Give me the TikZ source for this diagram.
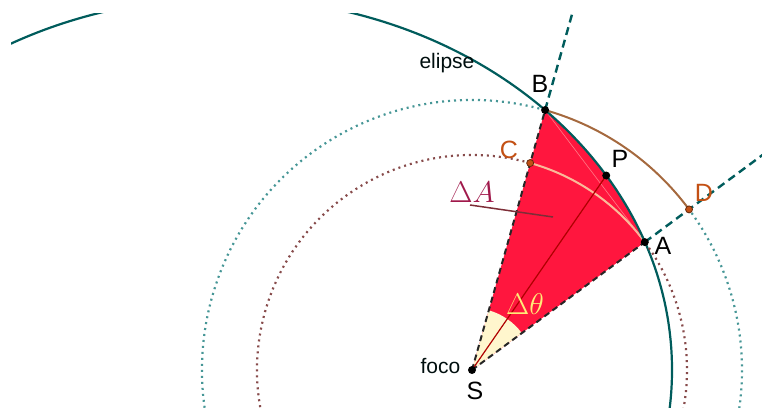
\documentclass[tikz,border=0pt]{standalone}
\usepackage{fix-cm}
\usepackage{fontspec}
\setmainfont{Liberation Sans}
\usetikzlibrary{calc}
\definecolor{sectorred}{RGB}{255,22,62}
\definecolor{ellteal}{RGB}{0,92,92}
\definecolor{dotteal}{RGB}{70,150,150}
\definecolor{dotbrown}{RGB}{135,75,75}
\definecolor{arcbrown}{RGB}{165,105,62}
\definecolor{ptorange}{RGB}{195,80,20}
\definecolor{ptorangedk}{RGB}{100,40,10}
\definecolor{creamfill}{RGB}{255,246,205}
\definecolor{creamline}{RGB}{250,215,170}
\definecolor{darkred}{RGB}{175,0,0}
\definecolor{ptrcol}{RGB}{125,45,55}
\definecolor{dalabel}{RGB}{160,25,75}
\definecolor{dtlabel}{RGB}{255,235,120}
\begin{document}
\begin{tikzpicture}[x=1pt,y=1pt,
  ell/.style={draw=ellteal,line width=2.2pt},
  tealdash/.style={draw=ellteal,line width=2.4pt,dash pattern=on 8pt off 5pt},
  blackdash/.style={draw=black!85,line width=2pt,dash pattern=on 6pt off 4pt},
  tealdot/.style={draw=dotteal,line width=2.2pt,dash pattern=on 2pt off 4pt},
  browndot/.style={draw=dotbrown,line width=2.2pt,dash pattern=on 2pt off 4pt},
  brownarc/.style={draw=arcbrown,line width=2pt},
  blackpt/.style={circle,fill=black,minimum size=8pt,inner sep=0pt},
  orangept/.style={circle,fill=ptorange,draw=ptorangedk,line width=0.8pt,minimum size=7pt,inner sep=0pt},
  bigl/.style={font=\fontsize{25}{25}\selectfont,anchor=base,inner sep=0pt},
  smalll/.style={font=\fontsize{21}{21}\selectfont,anchor=base,inner sep=0pt,text=black!85!ellteal},
  mathl/.style={font=\fontsize{30}{30}\selectfont,anchor=base,inner sep=0pt}
]
\useasboundingbox (0,0) rectangle (762,407);
\coordinate (O) at (225.7,37);
\coordinate (S) at (472,37);
\coordinate (A) at ($(O)+(20.1:446.3 and 372.2)$);
\coordinate (B) at ($(O)+(44.3:446.3 and 372.2)$);
\coordinate (P) at ($(O)+(31.5:446.3 and 372.2)$);
\coordinate (C) at ($(S)+(74.3:215)$);
\coordinate (D) at ($(S)+(36.5:270)$);
\coordinate (Ar) at ($(S)+(36.5:215)$);
\coordinate (Br) at ($(S)+(74.3:270)$);
\coordinate (Bfar) at ($(S)!2!(B)$);
\coordinate (Afar) at ($(S)!3!(A)$);
\coordinate (p1) at (470,202);
\coordinate (p2) at (553,190);
\begin{scope}
\clip (11,0) rectangle (762,393);
% sector
\fill[sectorred] (S) -- (A) arc[start angle=20.1,end angle=44.3,x radius=446.3pt,y radius=372.2pt] -- cycle;
\fill[creamfill] (S) -- ($(S)+(36.5:62)$) arc[start angle=36.5,end angle=74.3,radius=62pt] -- cycle;
\draw[creamline,line width=2pt,opacity=0.85] (Ar) arc[start angle=36.5,end angle=74.3,radius=215pt];
\draw[red!35!white,line width=0.6pt,opacity=0.7] (B) -- (A);
% ellipse
\draw[ell] (O) ellipse[x radius=446.3pt,y radius=372.2pt];
% circles
\draw[tealdot] (Br) arc[start angle=74.3,end angle=396.5,radius=270pt];
\draw[brownarc] (D) arc[start angle=36.5,end angle=74.3,radius=270pt];
\draw[browndot] (C) arc[start angle=74.3,end angle=396.5,radius=215pt];
% rays
\draw[tealdash] (B) -- (Bfar);
\draw[tealdash] (A) -- (Afar);
\draw[blackdash] (S) -- (A);
\draw[blackdash] (S) -- (B);
\draw[darkred,line width=1.2pt] (S) -- (P);
\draw[ptrcol,line width=1.5pt] (p1) -- (p2);
\end{scope}
% points
\node[blackpt] (nB) at (B) {};
\node[blackpt] (nP) at (P) {};
\node[blackpt] (nA) at (A) {};
\node[blackpt] (nS) at (S) {};
\node[orangept] (nC) at (C) {};
\node[orangept] (nD) at (D) {};
% labels
\node[smalll] (lel) at (447,338) {elipse};
\node[smalll] (lfo) at (440.5,34) {foco};
\node[bigl] (lB) at (540,314) {B};
\node[bigl,text=ptorange] (lC) at (509,248) {C};
\node[bigl] (lP) at (620,239) {P};
\node[bigl,text=ptorange] (lD) at (704,205) {D};
\node[bigl] (lA) at (663,152) {A};
\node[bigl] (lS) at (475,8) {S};
\node[mathl,text=dalabel] (lDA) at (472,204) {$\Delta A$};
\node[mathl,text=dtlabel] (lDT) at (525,93) {$\Delta\theta$};
\end{tikzpicture}
\end{document}
